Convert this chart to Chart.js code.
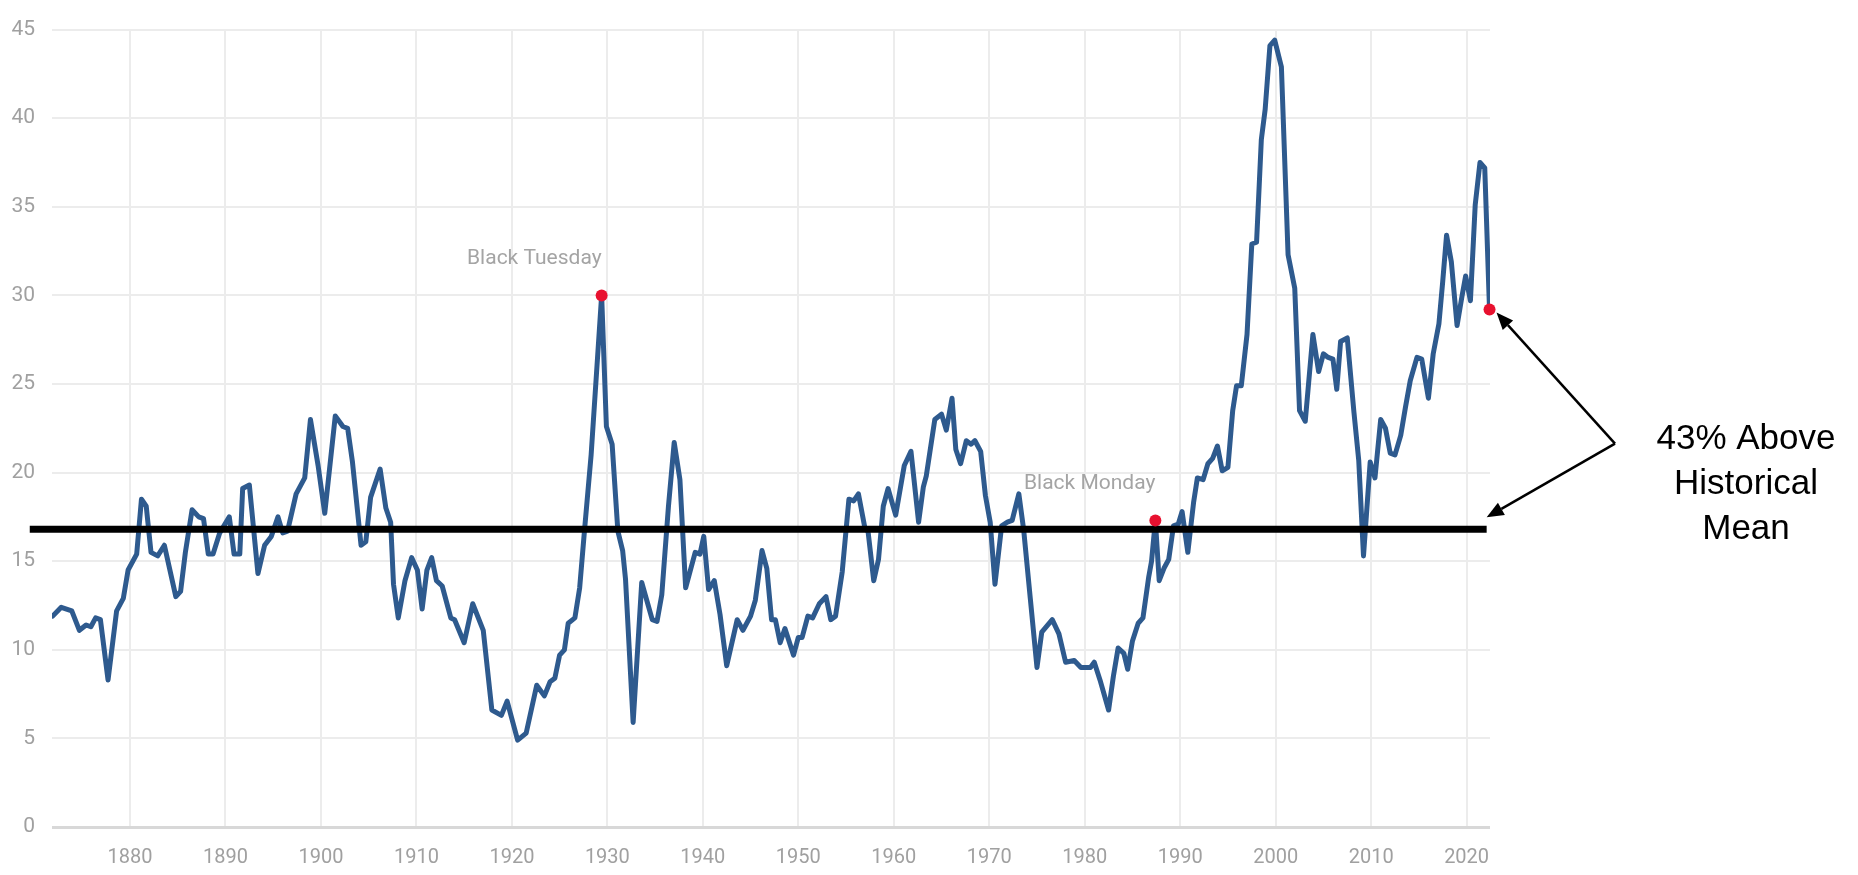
<!DOCTYPE html>
<html>
<head>
<meta charset="utf-8">
<title>CAPE ratio</title>
<script src="https://cdn.jsdelivr.net/npm/chart.js@4.4.1/dist/chart.umd.min.js"></script>
<style>
  html, body { margin: 0; padding: 0; background: #fff; }
  #chart { display: block; }
</style>
</head>
<body>
<canvas id="chart" width="1858" height="875"></canvas>
<script>
"use strict";

// values (year, ratio)
const capeYears = [
  1871.9, 1872.8, 1873.9, 1874.7, 1875.4, 1875.9, 1876.4, 1876.9, 1877.7, 1878.6,
  1879.3, 1879.8, 1880.7, 1881.2, 1881.7, 1882.2, 1882.9, 1883.6, 1884.8, 1885.3,
  1885.8, 1886.5, 1887.2, 1887.7, 1888.2, 1888.7, 1889.4, 1890.4, 1890.9, 1891.5,
  1891.8, 1892.5, 1893.4, 1894.1, 1894.8, 1895.5, 1896.0, 1896.5, 1897.4, 1898.3,
  1898.9, 1899.7, 1900.4, 1901.5, 1902.3, 1902.8, 1903.3, 1904.2, 1904.7, 1905.2,
  1906.2, 1906.8, 1907.3, 1907.6, 1908.1, 1908.8, 1909.5, 1910.1, 1910.6, 1911.1,
  1911.6, 1912.1, 1912.7, 1913.6, 1914.0, 1915.0, 1915.9, 1917.0, 1917.9, 1918.9,
  1919.5, 1920.6, 1921.5, 1922.6, 1923.4, 1924.0, 1924.5, 1925.0, 1925.5, 1925.9,
  1926.6, 1927.1, 1927.6, 1928.3, 1929.4, 1929.9, 1930.5, 1931.1, 1931.6, 1931.9,
  1932.7, 1933.6, 1934.7, 1935.2, 1935.7, 1936.4, 1937.0, 1937.6, 1938.2, 1939.2,
  1939.7, 1940.1, 1940.6, 1941.2, 1941.8, 1942.5, 1943.6, 1944.2, 1945.0, 1945.5,
  1946.2, 1946.7, 1947.2, 1947.6, 1948.1, 1948.6, 1949.5, 1950.0, 1950.4, 1951.0,
  1951.5, 1952.2, 1952.9, 1953.4, 1953.9, 1954.6, 1955.3, 1955.8, 1956.3, 1957.0,
  1957.3, 1957.9, 1958.4, 1958.9, 1959.4, 1960.2, 1961.1, 1961.8, 1962.6, 1963.1,
  1963.4, 1964.3, 1965.0, 1965.5, 1966.1, 1966.5, 1967.0, 1967.6, 1968.1, 1968.5,
  1969.1, 1969.6, 1970.1, 1970.6, 1971.3, 1971.9, 1972.4, 1973.1, 1973.6, 1974.3,
  1975.0, 1975.5, 1976.6, 1977.3, 1978.0, 1978.9, 1979.6, 1980.6, 1981.0, 1981.6,
  1982.5, 1983.0, 1983.5, 1984.1, 1984.5, 1985.0, 1985.6, 1986.1, 1986.7, 1987.0,
  1987.4, 1987.8, 1988.3, 1988.8, 1989.3, 1989.8, 1990.2, 1990.8, 1991.4, 1991.8,
  1992.4, 1992.9, 1993.4, 1993.9, 1994.4, 1995.0, 1995.5, 1995.9, 1996.4, 1997.0,
  1997.5, 1998.0, 1998.5, 1998.9, 1999.4, 1999.9, 2000.6, 2001.3, 2002.0, 2002.5,
  2003.1, 2003.9, 2004.5, 2005.0, 2005.5, 2006.0, 2006.4, 2006.8, 2007.5, 2008.2,
  2008.7, 2009.2, 2009.9, 2010.4, 2011.0, 2011.5, 2012.0, 2012.5, 2013.1, 2013.6,
  2014.1, 2014.8, 2015.3, 2016.0, 2016.5, 2017.1, 2017.5, 2017.9, 2018.4, 2019.0,
  2019.5, 2019.9, 2020.4, 2020.9, 2021.4, 2021.9, 2022.4
];
const capeValues = [
  11.9, 12.4, 12.2, 11.1, 11.4, 11.3, 11.8, 11.7, 8.3, 12.2,
  12.9, 14.5, 15.4, 18.5, 18.1, 15.5, 15.3, 15.9, 13.0, 13.3,
  15.5, 17.9, 17.5, 17.4, 15.4, 15.4, 16.6, 17.5, 15.4, 15.4,
  19.1, 19.3, 14.3, 15.9, 16.4, 17.5, 16.6, 16.7, 18.8, 19.7,
  23.0, 20.4, 17.7, 23.2, 22.6, 22.5, 20.6, 15.9, 16.1, 18.6,
  20.2, 18.0, 17.2, 13.7, 11.8, 13.9, 15.2, 14.5, 12.3, 14.5,
  15.2, 13.9, 13.6, 11.8, 11.7, 10.4, 12.6, 11.1, 6.6, 6.3,
  7.1, 4.9, 5.3, 8.0, 7.4, 8.2, 8.4, 9.7, 10.0, 11.5,
  11.8, 13.5, 16.7, 21.0, 30.0, 22.6, 21.6, 16.7, 15.6, 14.0,
  5.9, 13.8, 11.7, 11.6, 13.1, 18.1, 21.7, 19.6, 13.5, 15.5,
  15.4, 16.4, 13.4, 13.9, 12.0, 9.1, 11.7, 11.1, 11.9, 12.8,
  15.6, 14.6, 11.7, 11.7, 10.4, 11.2, 9.7, 10.7, 10.7, 11.9,
  11.8, 12.6, 13.0, 11.7, 11.9, 14.4, 18.5, 18.4, 18.8, 16.8,
  16.7, 13.9, 15.1, 18.1, 19.1, 17.6, 20.4, 21.2, 17.2, 19.2,
  19.8, 23.0, 23.3, 22.4, 24.2, 21.3, 20.5, 21.8, 21.6, 21.8,
  21.2, 18.7, 17.2, 13.7, 17.0, 17.2, 17.3, 18.8, 16.8, 12.9,
  9.0, 11.0, 11.7, 10.9, 9.3, 9.4, 9.0, 9.0, 9.3, 8.3,
  6.6, 8.5, 10.1, 9.8, 8.9, 10.5, 11.5, 11.8, 14.1, 15.0,
  17.3, 13.9, 14.6, 15.1, 17.0, 17.1, 17.8, 15.5, 18.3, 19.7,
  19.6, 20.5, 20.8, 21.5, 20.1, 20.3, 23.5, 24.9, 24.9, 27.8,
  32.9, 33.0, 38.8, 40.5, 44.1, 44.4, 42.9, 32.3, 30.4, 23.5,
  22.9, 27.8, 25.7, 26.7, 26.5, 26.4, 24.7, 27.4, 27.6, 23.4,
  20.7, 15.3, 20.6, 19.7, 23.0, 22.5, 21.1, 21.0, 22.1, 23.7,
  25.2, 26.5, 26.4, 24.2, 26.7, 28.4, 30.8, 33.4, 31.9, 28.3,
  29.9, 31.1, 29.7, 35.1, 37.5, 37.2, 29.2
];

// red points and their captions
const highlightYears = [1929.4, 1987.4, 2022.4];
const highlightValues = [30.0, 17.3, 29.2];
const highlightLabels = ["Black Tuesday", "Black Monday", null];

// historical mean line
const meanPE = 16.8;
const meanStart = 1869.5;
const meanEnd = 2022.1;

const noteLines = ["43% Above", "Historical", "Mean"];

// axes
const xTickYears = [1880, 1890, 1900, 1910, 1920, 1930, 1940, 1950, 1960, 1970, 1980, 1990, 2000, 2010, 2020];
const xMin = 1871.83;
const xMax = 2022.45;
const yMin = 0;
const yMax = 45;
const yStep = 5;

function drawArrow(ctx, from, to) {
  const ang = Math.atan2(to.y - from.y, to.x - from.x);
  const len = 17, half = 7;
  const bx = to.x - len * Math.cos(ang);
  const by = to.y - len * Math.sin(ang);
  ctx.beginPath();
  ctx.moveTo(from.x, from.y);
  ctx.lineTo(bx, by);
  ctx.stroke();
  ctx.beginPath();
  ctx.moveTo(to.x, to.y);
  ctx.lineTo(bx + half * Math.sin(ang), by - half * Math.cos(ang));
  ctx.lineTo(bx - half * Math.sin(ang), by + half * Math.cos(ang));
  ctx.closePath();
  ctx.fill();
}

const overlay = {
  id: "overlay",
  afterDatasetsDraw(chart) {
    const { ctx, chartArea, scales } = chart;
    const x = scales.x, y = scales.y;
    ctx.save();

    // captions for the red points
    ctx.font = "21px Roboto, sans-serif";
    ctx.fillStyle = "#a4a4a4";
    ctx.textAlign = "right";
    ctx.textBaseline = "middle";
    highlightLabels.forEach((label, i) => {
      if (!label) return;
      ctx.fillText(label, x.getPixelForValue(highlightYears[i]), y.getPixelForValue(highlightValues[i]) - 37);
    });

    // arrows to the last point and the mean line
    const last = highlightYears.length - 1;
    const apex = { x: chartArea.right + 125, y: chartArea.top + 414 };
    ctx.strokeStyle = "#000";
    ctx.fillStyle = "#000";
    ctx.lineWidth = 2.5;
    drawArrow(ctx, apex, {
      x: x.getPixelForValue(highlightYears[last]) + 7,
      y: y.getPixelForValue(highlightValues[last]) + 3,
    });
    drawArrow(ctx, apex, {
      x: x.getPixelForValue(meanEnd),
      y: y.getPixelForValue(meanPE) - 12,
    });

    // note text
    ctx.font = '35px "Liberation Sans", Arial, sans-serif';
    ctx.textAlign = "center";
    ctx.textBaseline = "alphabetic";
    noteLines.forEach((line, i) => {
      ctx.fillText(line, chartArea.right + 256, chartArea.top + 419 + i * 45);
    });
    ctx.restore();
  },
};

const ctx = document.getElementById("chart");
new Chart(ctx, {
  type: "line",
  data: {
    datasets: [
      {
        label: "events",
        data: highlightYears.map((yr, i) => ({ x: yr, y: highlightValues[i] })),
        showLine: false,
        pointRadius: 6,
        pointBackgroundColor: "#e8112f",
        pointBorderWidth: 0,
        clip: false,
      },
      {
        label: "mean",
        data: [{ x: meanStart, y: meanPE }, { x: meanEnd, y: meanPE }],
        borderColor: "#000",
        borderWidth: 7,
        borderCapStyle: "butt",
        pointRadius: 0,
        clip: false,
      },
      {
        label: "CAPE",
        data: capeYears.map((yr, i) => ({ x: yr, y: capeValues[i] })),
        borderColor: "#2e5a8e",
        borderWidth: 5,
        borderJoinStyle: "round",
        borderCapStyle: "round",
        pointRadius: 0,
        tension: 0,
      },
    ],
  },
  options: {
    responsive: false,
    animation: false,
    devicePixelRatio: 1,
    layout: { padding: { top: 23, right: 368, bottom: 0, left: 0 } },
    plugins: { legend: { display: false }, tooltip: { enabled: false } },
    scales: {
      x: {
        type: "linear",
        min: xMin,
        max: xMax,
        afterBuildTicks: (scale) => {
          scale.ticks = xTickYears.map((v) => ({ value: v }));
        },
        afterFit: (scale) => {
          scale.height = 48;
        },
        grid: { color: "#ececec", lineWidth: 2, drawTicks: false },
        border: { display: false },
        ticks: {
          autoSkip: false,
          maxRotation: 0,
          padding: 19,
          color: "#a0a0a0",
          font: { family: "Roboto", size: 20 },
          callback: (v) => String(v),
        },
      },
      y: {
        min: yMin,
        max: yMax,
        afterFit: (scale) => {
          scale.width = 52;
        },
        grid: {
          color: (c) => (c.tick && c.tick.value === 0 ? "#d8d8d8" : "#ececec"),
          lineWidth: (c) => (c.tick && c.tick.value === 0 ? 3 : 2),
          drawTicks: false,
        },
        border: { display: false },
        ticks: {
          stepSize: yStep,
          padding: 17,
          color: "#a0a0a0",
          font: { family: "Roboto", size: 21 },
        },
      },
    },
  },
  plugins: [overlay],
});
</script>
</body>
</html>
